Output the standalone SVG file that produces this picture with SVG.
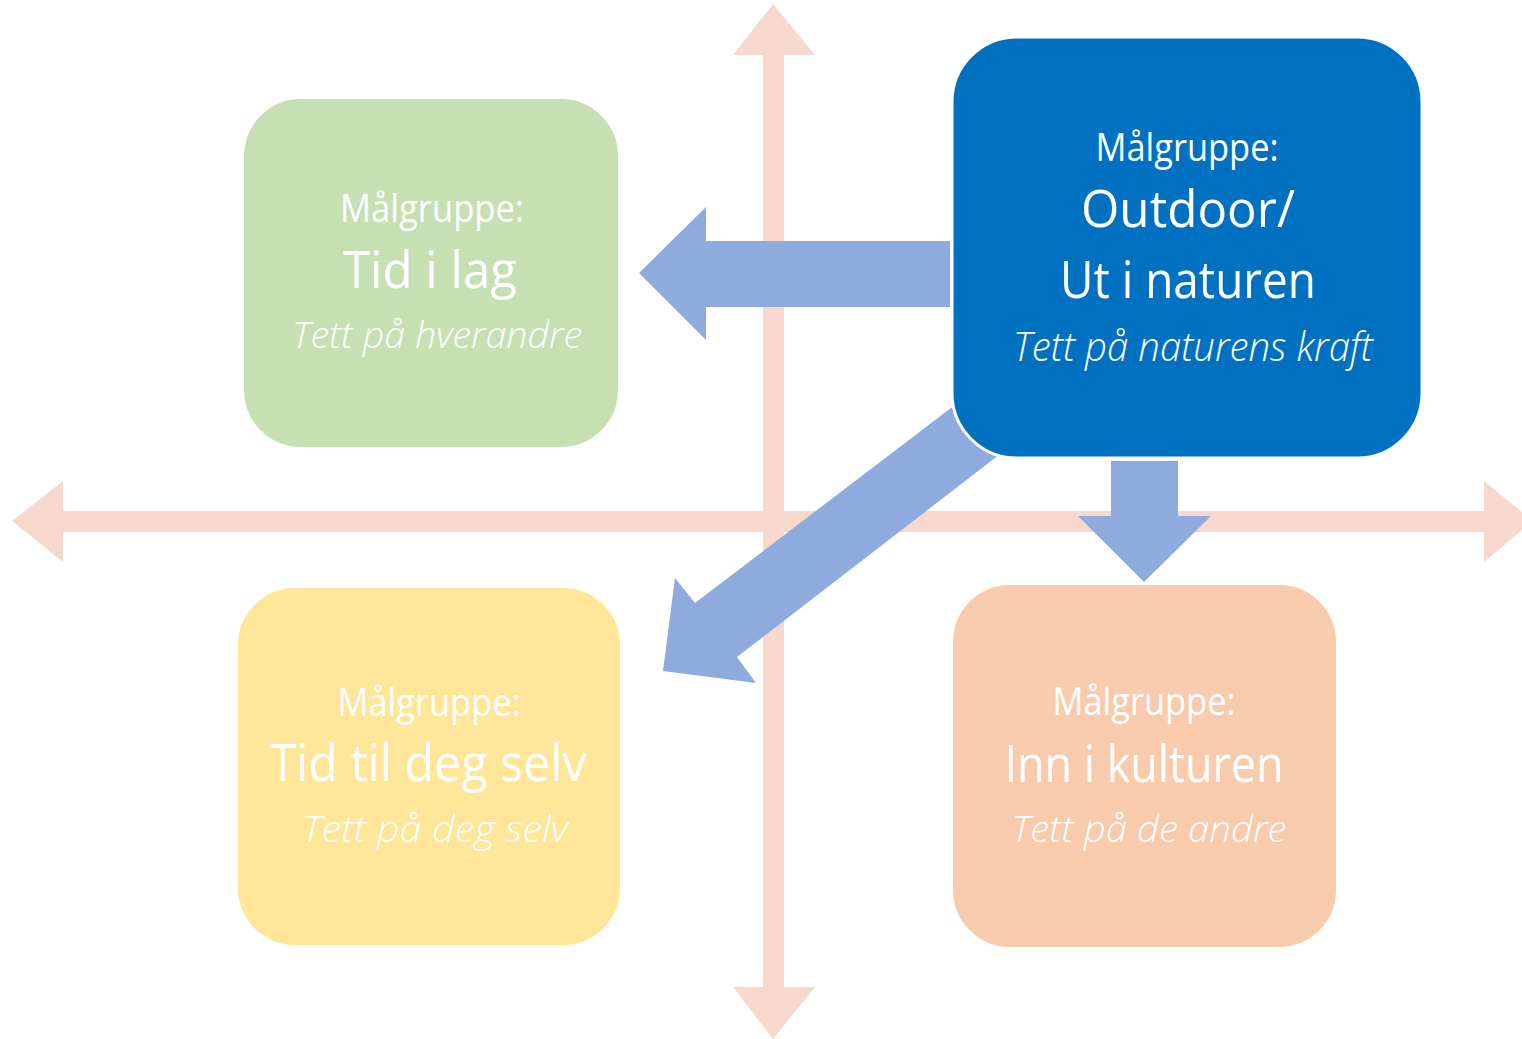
<svg xmlns="http://www.w3.org/2000/svg" width="1522" height="1039" viewBox="0 0 1522 1039">
<style>
.axis{fill:#F7D8CD}
.flow{fill:#8FAADC}
.box{stroke:#FFFFFF;stroke-width:2}
.t{font-family:"Open Sans","Noto Sans","Liberation Sans",sans-serif;fill:#FFFFFF;text-anchor:middle}
.lbl{font-size:38px;font-weight:400}
.ttl{font-size:52px;font-weight:400}
.ttlm{font-size:52px;font-weight:500}
.sub{font-size:37px;font-weight:300;font-style:italic}
</style>
<rect width="1522" height="1039" fill="#FFFFFF"/>
<g id="axes">
<polygon class="axis" points="12,521 63,481 63,511 1484,511 1484,481 1533,521 1484,562 1484,532 63,532 63,562"/>
<polygon class="axis" points="773,4 815,55 784,55 784,987 815,987 773,1039 733,987 763,987 763,55 733,55"/>
</g>
<g id="connectors">
<polygon class="flow" points="639,273 706,207 706,241 950,241 950,307 706,307 706,340"/>
<polygon class="flow" points="1111,461 1178,461 1178,516 1211,516 1144,582 1078,516 1111,516"/>
<polygon class="flow" points="972,392 1017,441 737,657 756,683 663,671 675,578 695,603"/>
</g>
<g id="node-tid-i-lag">
<rect class="box" x="243" y="98" width="376" height="350" rx="58" fill="#C6E0B4"/>
<text class="t lbl" x="432" y="222" textLength="184" lengthAdjust="spacingAndGlyphs">Målgruppe:</text>
<text class="t ttl" x="430" y="288" textLength="174" lengthAdjust="spacingAndGlyphs">Tid i lag</text>
<text class="t sub" x="437" y="348" textLength="290" lengthAdjust="spacingAndGlyphs">Tett på hverandre</text>
</g>
<g id="node-outdoor">
<rect class="box" x="952" y="37" width="470" height="421" rx="65" fill="#0070C0" style="stroke-width:3"/>
<text class="t lbl" x="1187" y="161" textLength="183" lengthAdjust="spacingAndGlyphs">Målgruppe:</text>
<text class="t ttlm" x="1188" y="227" textLength="214" lengthAdjust="spacingAndGlyphs">Outdoor/</text>
<text class="t ttlm" x="1188" y="298" textLength="256" lengthAdjust="spacingAndGlyphs">Ut i naturen</text>
<text class="t sub" x="1193" y="361" style="font-size:40px" textLength="360" lengthAdjust="spacingAndGlyphs">Tett på naturens kraft</text>
</g>
<g id="node-tid-til-deg-selv">
<rect class="box" x="237" y="587" width="384" height="359" rx="58" fill="#FFE699"/>
<text class="t lbl" x="429" y="716" textLength="183" lengthAdjust="spacingAndGlyphs">Målgruppe:</text>
<text class="t ttl" x="428" y="781" textLength="317" lengthAdjust="spacingAndGlyphs">Tid til deg selv</text>
<text class="t sub" x="435" y="842" textLength="266" lengthAdjust="spacingAndGlyphs">Tett på deg selv</text>
</g>
<g id="node-inn-i-kulturen">
<rect class="box" x="952" y="584" width="385" height="364" rx="58" fill="#F8CBAD"/>
<text class="t lbl" x="1144" y="715" textLength="183" lengthAdjust="spacingAndGlyphs">Målgruppe:</text>
<text class="t ttlm" x="1144" y="782" textLength="279" lengthAdjust="spacingAndGlyphs">Inn i kulturen</text>
<text class="t sub" x="1149" y="842" textLength="275" lengthAdjust="spacingAndGlyphs">Tett på de andre</text>
</g>
</svg>
